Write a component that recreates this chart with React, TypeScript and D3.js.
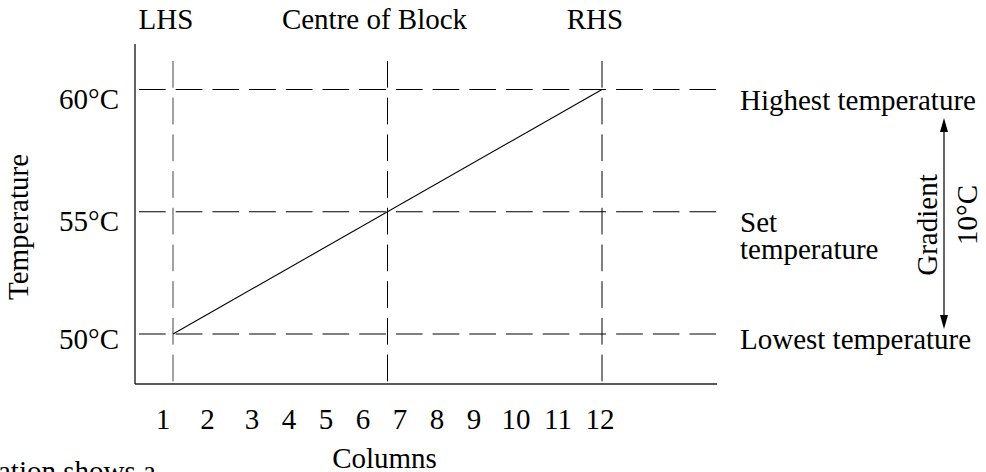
import React from "react";
import * as d3 from "d3";

const columns = [1, 2, 3, 4, 5, 6, 7, 8, 9, 10, 11, 12];
const tempTicks = [50, 55, 60];
const tempLabels = ["50°C", "55°C", "60°C"];
const blockNames = ["LHS", "Centre of Block", "RHS"];
const blockPos = [0, 0.5, 1];
const gradientPos = [0, 1];
const gradientTemp = [50, 60];
const levelNames = [["Lowest temperature"], ["Set", "temperature"], ["Highest temperature"]];

const W = 986;
const H = 472;
const FONT = "'Liberation Serif', 'Times New Roman', serif";
const FS = 29;

export default function App() {
  React.useEffect(() => {
    document.body.style.margin = "0";
  }, []);

  const y = d3.scaleLinear().domain([50, 60]).range([334, 89.5]);
  const bx = d3.scaleLinear().domain([0, 1]).range([173, 602]);
  const cx = d3.scaleLinear().domain([1, 3, 9, 12]).range([163, 252, 474, 600]);

  const axisX0 = 135;
  const axisY0 = 384;
  const axisTop = 44;
  const axisRight = 717;

  const line = d3
    .line<number>()
    .x((_, i) => bx(gradientPos[i]))
    .y((d) => y(d));

  const arrowX = 944;
  const arrowTop = 118;
  const arrowBot = 329;

  return (
    <svg
      width={W}
      height={H}
      style={{ position: "absolute", left: 0, top: 0, background: "#fff" }}
      fontFamily={FONT}
      fontSize={FS}
    >
      <rect width={W} height={H} fill="#fff" />
      {/* axes */}
      <line x1={axisX0} y1={axisTop} x2={axisX0} y2={axisY0} stroke="#222" strokeWidth={1.4} />
      <line x1={axisX0} y1={axisY0} x2={axisRight} y2={axisY0} stroke="#222" strokeWidth={1.6} />

      {/* horizontal dashed levels */}
      {tempTicks.map((t) => (
        <line
          key={"h" + t}
          x1={139}
          x2={716}
          y1={y(t)}
          y2={y(t)}
          stroke="#000"
          strokeWidth={1}
          strokeDasharray="26.7,10"
        />
      ))}

      {/* vertical dashed block lines */}
      {blockPos.map((p, i) => (
        <line
          key={"v" + i}
          x1={bx(p)}
          x2={bx(p)}
          y1={61}
          y2={axisY0}
          stroke={i === 0 ? "#444" : "#000"}
          strokeWidth={1}
          strokeDasharray="26.7,10"
        />
      ))}

      {/* gradient line */}
      <path d={line(gradientTemp) || ""} fill="none" stroke="#000" strokeWidth={1.1} />

      {/* block labels */}
      {blockNames.map((n, i) => (
        <text key={n} x={bx(blockPos[i]) - (i === 1 ? 13 : 7)} y={29} textAnchor="middle">
          {n}
        </text>
      ))}

      {/* y tick labels */}
      {tempTicks.map((t, i) => (
        <text key={"yl" + t} x={119} y={y(t) + (t === 50 ? 15 : 19.5)} textAnchor="end">
          {tempLabels[i]}
        </text>
      ))}

      {/* x tick labels */}
      {columns.map((c) => (
        <text key={"c" + c} x={cx(c)} y={429} textAnchor="middle">
          {c}
        </text>
      ))}

      {/* axis titles */}
      <text x={384.5} y={468} textAnchor="middle">
        Columns
      </text>
      <text transform={`translate(28,227) rotate(-90)`} textAnchor="middle">
        Temperature
      </text>

      {/* right-side level labels */}
      {tempTicks.map((t, i) => (
        <text key={"rl" + t} x={740} y={y(t) + (t === 50 ? 15 : 20.5)}>
          {levelNames[i].map((s, j) => (
            <tspan key={j} x={740} dy={j === 0 ? 0 : 27}>
              {s}
            </tspan>
          ))}
        </text>
      ))}

      {/* gradient arrow */}
      <line x1={arrowX} x2={arrowX} y1={arrowTop + 10} y2={arrowBot - 10} stroke="#000" strokeWidth={1.2} />
      <path d={`M${arrowX},${arrowTop} L${arrowX - 4},${arrowTop + 14} L${arrowX + 4},${arrowTop + 14} Z`} fill="#000" />
      <path d={`M${arrowX},${arrowBot} L${arrowX - 4},${arrowBot - 14} L${arrowX + 4},${arrowBot - 14} Z`} fill="#000" />
      <text transform={`translate(937,225) rotate(-90)`} textAnchor="middle">
        Gradient
      </text>
      <text transform={`translate(977,215) rotate(-90)`} textAnchor="middle">
        10°C
      </text>

      {/* cut-off caption text */}
      <text x={-2} y={481}>ation shows a</text>
    </svg>
  );
}
